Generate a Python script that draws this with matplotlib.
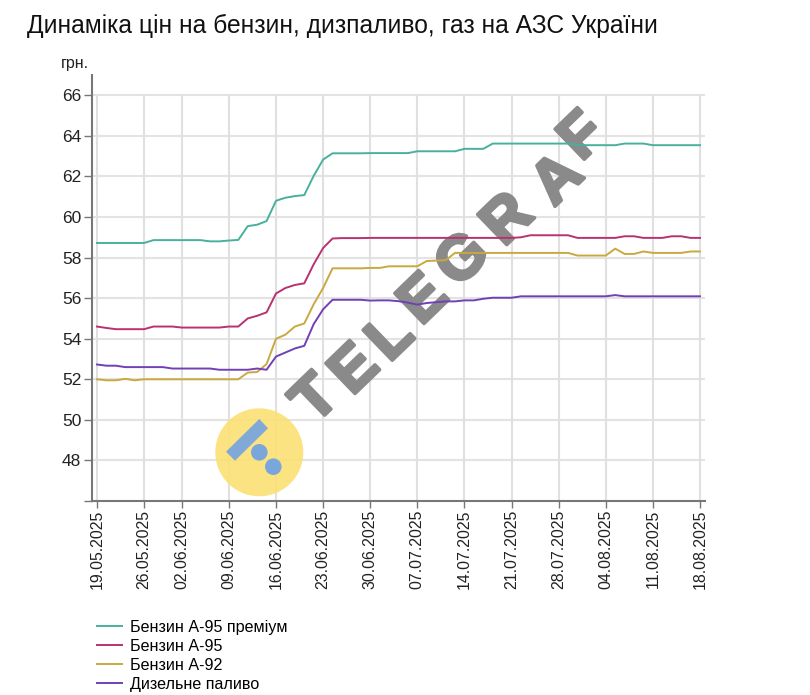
#!/usr/bin/env python3
"""Fuel prices at Ukrainian filling stations, May-August 2025."""

import matplotlib
matplotlib.use('Agg')
import matplotlib.pyplot as plt
import matplotlib.patheffects as path_effects
from matplotlib.patches import Circle, Polygon
from matplotlib.transforms import IdentityTransform

WIDTH = 810
HEIGHT = 695

TITLE = 'Динаміка цін на бензин, дизпаливо, газ на АЗС України'
UNIT = 'грн.'

# Trading days only, so the axis is ordinal (one short week at the end of May).
DATES = [
    '19.05.2025', '20.05.2025', '21.05.2025', '22.05.2025', '23.05.2025',
    '26.05.2025', '27.05.2025', '28.05.2025', '29.05.2025',
    '02.06.2025', '03.06.2025', '04.06.2025', '05.06.2025', '06.06.2025',
    '09.06.2025', '10.06.2025', '11.06.2025', '12.06.2025', '13.06.2025',
    '16.06.2025', '17.06.2025', '18.06.2025', '19.06.2025', '20.06.2025',
    '23.06.2025', '24.06.2025', '25.06.2025', '26.06.2025', '27.06.2025',
    '30.06.2025', '01.07.2025', '02.07.2025', '03.07.2025', '04.07.2025',
    '07.07.2025', '08.07.2025', '09.07.2025', '10.07.2025', '11.07.2025',
    '14.07.2025', '15.07.2025', '16.07.2025', '17.07.2025', '18.07.2025',
    '21.07.2025', '22.07.2025', '23.07.2025', '24.07.2025', '25.07.2025',
    '28.07.2025', '29.07.2025', '30.07.2025', '31.07.2025', '01.08.2025',
    '04.08.2025', '05.08.2025', '06.08.2025', '07.08.2025', '08.08.2025',
    '11.08.2025', '12.08.2025', '13.08.2025', '14.08.2025', '15.08.2025',
    '18.08.2025',
]
TICK_DATES = [
    '19.05.2025', '26.05.2025', '02.06.2025', '09.06.2025', '16.06.2025',
    '23.06.2025', '30.06.2025', '07.07.2025', '14.07.2025', '21.07.2025',
    '28.07.2025', '04.08.2025', '11.08.2025', '18.08.2025',
]
Y_TICKS = [46, 48, 50, 52, 54, 56, 58, 60, 62, 64, 66]

A95_PREMIUM = [
    58.72, 58.72, 58.72, 58.72, 58.72,
    58.72, 58.86, 58.86, 58.86,
    58.86, 58.86, 58.86, 58.80, 58.80,
    58.84, 58.87, 59.55, 59.62, 59.80,
    60.80, 60.95, 61.03, 61.08, 62.03,
    62.83, 63.14, 63.14, 63.14, 63.14,
    63.15, 63.15, 63.15, 63.15, 63.15,
    63.24, 63.24, 63.24, 63.24, 63.24,
    63.36, 63.36, 63.36, 63.62, 63.62,
    63.62, 63.62, 63.62, 63.62, 63.62,
    63.62, 63.62, 63.55, 63.54, 63.54,
    63.54, 63.54, 63.62, 63.62, 63.62,
    63.54, 63.54, 63.54, 63.54, 63.54,
    63.54,
]
A95 = [
    54.60, 54.53, 54.47, 54.47, 54.47,
    54.47, 54.60, 54.60, 54.60,
    54.55, 54.55, 54.55, 54.55, 54.55,
    54.60, 54.60, 55.00, 55.13, 55.30,
    56.23, 56.50, 56.65, 56.73, 57.67,
    58.47, 58.94, 58.96, 58.96, 58.96,
    58.97, 58.97, 58.97, 58.97, 58.97,
    58.97, 58.97, 58.97, 58.97, 58.97,
    58.97, 58.97, 58.97, 58.97, 58.97,
    58.97, 59.00, 59.10, 59.10, 59.10,
    59.10, 59.10, 58.97, 58.97, 58.97,
    58.97, 58.97, 59.05, 59.05, 58.97,
    58.97, 58.97, 59.05, 59.05, 58.97,
    58.97,
]
A92 = [
    52.00, 51.95, 51.95, 52.02, 51.95,
    52.00, 52.00, 52.00, 52.00,
    52.00, 52.00, 52.00, 52.00, 52.00,
    52.00, 52.00, 52.33, 52.36, 52.75,
    54.00, 54.20, 54.60, 54.75, 55.70,
    56.50, 57.47, 57.47, 57.47, 57.47,
    57.49, 57.49, 57.57, 57.57, 57.57,
    57.57, 57.83, 57.85, 57.87, 58.23,
    58.23, 58.23, 58.23, 58.23, 58.23,
    58.23, 58.23, 58.23, 58.23, 58.23,
    58.23, 58.23, 58.10, 58.10, 58.10,
    58.10, 58.44, 58.18, 58.18, 58.30,
    58.23, 58.23, 58.23, 58.23, 58.30,
    58.30,
]
DIESEL = [
    52.73, 52.67, 52.67, 52.60, 52.60,
    52.60, 52.60, 52.60, 52.53,
    52.53, 52.53, 52.53, 52.53, 52.47,
    52.47, 52.47, 52.47, 52.53, 52.47,
    53.12, 53.32, 53.52, 53.65, 54.72,
    55.45, 55.92, 55.92, 55.92, 55.92,
    55.88, 55.89, 55.89, 55.85, 55.78,
    55.68, 55.76, 55.80, 55.84, 55.84,
    55.89, 55.89, 55.97, 56.02, 56.02,
    56.02, 56.09, 56.09, 56.09, 56.09,
    56.09, 56.09, 56.09, 56.09, 56.09,
    56.09, 56.15, 56.09, 56.09, 56.09,
    56.09, 56.09, 56.09, 56.09, 56.09,
    56.09,
]

SERIES_NAMES = ['Бензин А-95 преміум', 'Бензин А-95', 'Бензин А-92', 'Дизельне паливо']
SERIES_COLORS = ['#48b09c', '#b8326f', '#c9a93f', '#7040b4']

WATERMARK = 'TELEGRAF'
WATERMARK_CENTERS = [(317, 401), (356, 371), (392, 339), (425, 301),
                     (464, 261), (509, 221), (559, 181), (584, 138)]


def px(x, y):
    """Convert picture pixels (origin top left) to display coordinates."""
    return (x, HEIGHT - y)


def main():
    plt.rcParams['font.family'] = ['Liberation Sans', 'DejaVu Sans']

    fig = plt.figure(figsize=(WIDTH / 100, HEIGHT / 100), dpi=100)
    ax = fig.add_axes([91.7 / WIDTH, 1 - 501 / HEIGHT, (705 - 91.7) / WIDTH, (501 - 75) / HEIGHT])

    positions = list(range(len(DATES)))
    tick_positions = [DATES.index(d) for d in TICK_DATES]

    ax.set_xlim(-0.56, 64.53)
    ax.set_ylim(46, 67)

    # Grid stops at the top tick, the y axis runs on past it.
    ax.hlines(Y_TICKS[1:], -0.56, 64.53, color='#e3e3e3', lw=1.5, zorder=1)
    ax.vlines(tick_positions, 46, 66, color='#e0e0e0', lw=1.5, zorder=1)

    for values, name, color in zip([A95_PREMIUM, A95, A92, DIESEL], SERIES_NAMES, SERIES_COLORS):
        ax.plot(positions, values, color=color, lw=1.4, label=name, zorder=3)

    for side in ['top', 'right']:
        ax.spines[side].set_visible(False)
    for side in ['left', 'bottom']:
        ax.spines[side].set_color('#777777')
        ax.spines[side].set_linewidth(1.5)

    ax.set_yticks(Y_TICKS)
    ax.set_yticklabels([''] + [str(v) for v in Y_TICKS[1:]])
    ax.set_xticks(tick_positions)
    ax.set_xticklabels(TICK_DATES, rotation=90)
    ax.tick_params(axis='y', length=5.5, width=1, color='#777777', labelsize=12.5,
                   labelcolor='#222222', pad=2)
    ax.tick_params(axis='x', length=5, width=1, color='#777777', labelsize=11.4,
                   labelcolor='#222222', pad=1.5)

    fig.text(27 / WIDTH, 1 - 33 / HEIGHT, TITLE, fontsize=17.7, color='#111111')
    fig.text(61 / WIDTH, 1 - 68 / HEIGHT, UNIT, fontsize=11.5, color='#222222')

    ax.legend(loc='upper left', bbox_to_anchor=(92 / WIDTH, 1 - 615 / HEIGHT),
              bbox_transform=fig.transFigure, frameon=False, fontsize=11.6,
              handlelength=1.55, handletextpad=0.5, labelspacing=0.25, borderpad=0.3,
              borderaxespad=0)

    # Logo stamp on top of the chart.
    identity = IdentityTransform()
    fig.add_artist(Circle(px(259.3, 452.3), 44, transform=identity, color='#fbe070', alpha=0.88, lw=0))
    fig.add_artist(Polygon([px(226, 451.7), px(259.3, 419), px(268, 428.3), px(235, 460.7)],
                           transform=identity, color='#7aa6dc', alpha=0.95, lw=0))
    fig.add_artist(Circle(px(259.3, 452.3), 8.3, transform=identity, color='#7aa6dc', lw=0))
    fig.add_artist(Circle(px(273.3, 466.7), 8.3, transform=identity, color='#7aa6dc', lw=0))

    # Watermark under the lines, one letter at a time because the spacing is wide.
    for letter, (x, y) in zip(WATERMARK, WATERMARK_CENTERS):
        ax.text(x / WIDTH, 1 - y / HEIGHT, letter, transform=fig.transFigure, fontsize=44,
                fontweight='bold', color='#8a8a8a', rotation=44, rotation_mode='anchor',
                ha='center', va='center', zorder=2,
                path_effects=[path_effects.withStroke(linewidth=2.5, foreground='#8a8a8a')])

    fig.savefig('out.png', dpi=100)


if __name__ == '__main__':
    main()
